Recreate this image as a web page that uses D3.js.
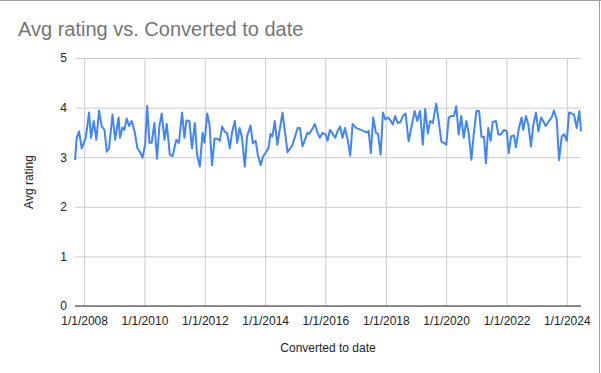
<!DOCTYPE html>
<html><head><meta charset="utf-8">
<script src="https://cdn.jsdelivr.net/npm/d3@7"></script>
<style>
html,body{margin:0;padding:0;background:#fff;}
svg{display:block;font-family:"Liberation Sans",Arial,sans-serif;}
</style></head>
<body><svg id="c" width="601" height="373"></svg>
<script>
const dates = ["2007-09-13","2007-10-04","2007-11-01","2007-12-03","2008-01-21","2008-03-01","2008-03-25","2008-04-27","2008-05-29","2008-06-30","2008-08-02","2008-09-04","2008-10-02","2008-10-29","2008-12-10","2009-01-11","2009-02-22","2009-03-11","2009-04-09","2009-05-03","2009-05-31","2009-06-28","2009-07-30","2009-09-03","2009-10-08","2009-11-10","2009-12-08","2010-01-09","2010-02-03","2010-03-02","2010-03-29","2010-05-01","2010-06-02","2010-07-01","2010-07-29","2010-09-01","2010-09-28","2010-11-04","2010-12-06","2011-01-22","2011-02-22","2011-04-01","2011-04-30","2011-05-24","2011-06-29","2011-07-30","2011-09-03","2011-09-30","2011-11-02","2011-12-05","2011-12-29","2012-01-30","2012-02-28","2012-03-29","2012-04-28","2012-06-07","2012-07-01","2012-07-29","2012-08-27","2012-09-28","2012-10-30","2012-11-28","2012-12-30","2013-01-28","2013-02-26","2013-03-27","2013-04-30","2013-05-27","2013-07-08","2013-08-05","2013-09-08","2013-10-05","2013-11-07","2013-12-08","2014-01-19","2014-02-12","2014-03-07","2014-03-30","2014-04-28","2014-05-28","2014-07-30","2014-09-29","2014-11-29","2015-01-29","2015-02-26","2015-03-29","2015-05-28","2015-06-17","2015-07-20","2015-08-26","2015-09-28","2015-10-25","2015-11-27","2016-01-07","2016-01-27","2016-02-24","2016-03-27","2016-04-28","2016-05-26","2016-06-27","2016-07-26","2016-08-24","2016-09-26","2016-10-27","2016-11-25","2017-01-05","2017-03-05","2017-05-13","2017-06-07","2017-07-04","2017-08-01","2017-09-04","2017-09-28","2017-10-30","2017-11-27","2017-12-25","2018-01-27","2018-02-28","2018-03-27","2018-04-24","2018-05-26","2018-06-28","2018-07-26","2018-08-28","2018-10-04","2018-11-05","2018-12-16","2019-01-17","2019-02-19","2019-03-25","2019-04-22","2019-05-25","2019-06-22","2019-07-24","2019-09-04","2019-10-03","2019-11-04","2019-12-02","2020-01-03","2020-02-02","2020-03-03","2020-04-05","2020-05-03","2020-06-01","2020-07-02","2020-08-01","2020-09-02","2020-09-30","2020-11-02","2020-11-30","2021-01-02","2021-02-04","2021-03-04","2021-04-03","2021-04-27","2021-05-25","2021-06-23","2021-07-17","2021-08-27","2021-09-24","2021-10-26","2021-12-02","2022-01-05","2022-01-28","2022-02-26","2022-04-01","2022-04-25","2022-06-01","2022-07-03","2022-07-22","2022-08-25","2022-09-22","2022-10-24","2022-11-22","2022-12-24","2023-01-22","2023-02-24","2023-03-21","2023-04-20","2023-05-29","2023-07-02","2023-07-29","2023-09-01","2023-09-29","2023-11-01","2023-12-02","2024-01-01","2024-01-28","2024-02-29","2024-03-28","2024-04-30","2024-06-01","2024-06-21"];
const ratings = [2.94,3.39,3.52,3.18,3.39,3.90,3.39,3.73,3.35,3.94,3.62,3.55,3.11,3.18,3.86,3.35,3.80,3.39,3.60,3.55,3.78,3.63,3.73,3.52,3.18,3.10,2.99,3.25,4.03,3.29,3.29,3.69,2.97,3.63,3.88,3.35,3.67,3.05,3.02,3.35,3.29,3.90,3.39,3.74,3.73,3.18,3.69,3.05,2.81,3.49,3.29,3.88,3.65,2.84,3.37,3.37,3.33,3.62,3.52,3.48,3.18,3.51,3.73,3.29,3.59,3.39,2.81,3.42,3.64,3.28,3.33,3.05,2.84,3.02,3.12,3.20,3.47,3.42,3.73,3.25,3.90,3.10,3.25,3.59,3.59,3.22,3.49,3.47,3.55,3.67,3.49,3.39,3.49,3.45,3.33,3.55,3.48,3.39,3.52,3.62,3.39,3.59,3.35,3.03,3.67,3.59,3.55,3.50,3.53,3.08,3.80,3.49,3.47,3.05,3.90,3.76,3.80,3.74,3.66,3.83,3.69,3.71,3.83,3.88,3.32,3.59,3.93,3.73,3.93,3.25,3.97,3.48,3.73,3.69,4.08,3.73,3.32,3.29,3.25,3.80,3.83,3.83,4.03,3.46,3.83,3.39,3.73,3.49,2.95,3.46,3.93,3.93,3.41,3.41,2.88,3.59,3.33,3.71,3.73,3.46,3.46,3.55,3.52,3.08,3.42,3.44,3.20,3.59,3.80,3.55,3.83,3.66,3.22,3.66,3.90,3.52,3.80,3.73,3.63,3.73,3.80,3.94,3.76,2.94,3.42,3.46,3.33,3.90,3.88,3.86,3.59,3.93,3.52];
const xTickYears = [2008,2010,2012,2014,2016,2018,2020,2022,2024];
const yTicks = [0,1,2,3,4,5];
const title = "Avg rating vs. Converted to date";
const xTitle = "Converted to date";
const yTitle = "Avg rating";

const parse = d3.utcParse("%Y-%m-%d");
const data = dates.map((d,i)=>({date:parse(d), v:ratings[i]}));

const svg = d3.select("#c");
const m = {left:75, right:581, top:58, bottom:306};
const x = d3.scaleUtc().domain(d3.extent(data,d=>d.date)).range([m.left,m.right]);
const y = d3.scaleLinear().domain([0,5]).range([m.bottom,m.top]);

// frame lines
svg.append("line").attr("x1",0).attr("x2",601).attr("y1",0.5).attr("y2",0.5).attr("stroke","#9e9e9e");
svg.append("line").attr("x1",599.5).attr("x2",599.5).attr("y1",0).attr("y2",373).attr("stroke","#9e9e9e");

// title
svg.append("text").attr("x",18).attr("y",36).attr("font-size",20).attr("fill","#757575").text(title);

// grid
const xTicks = xTickYears.map(yr=>new Date(Date.UTC(yr,0,1)));
const gy = svg.append("g").attr("transform",`translate(${m.left},0)`)
  .call(d3.axisLeft(y).tickValues(yTicks).tickSize(-(m.right-m.left)).tickFormat(d3.format("d")));
gy.select(".domain").remove();
gy.selectAll(".tick line").attr("stroke","#cccccc");
gy.selectAll(".tick text").attr("x",-8).attr("font-size",12).attr("fill","#222").attr("font-family","Liberation Sans, Arial, sans-serif");

const gx = svg.append("g").attr("transform",`translate(0,${m.bottom})`)
  .call(d3.axisBottom(x).tickValues(xTicks).tickSize(-(m.bottom-m.top)).tickFormat(d3.utcFormat("%-m/%-d/%Y")));
gx.select(".domain").remove();
gx.selectAll(".tick line").attr("stroke","#cccccc");
gx.selectAll(".tick text").attr("y",10).attr("font-size",12).attr("fill","#222").attr("font-family","Liberation Sans, Arial, sans-serif");

// baseline
svg.append("line").attr("x1",m.left).attr("x2",m.right).attr("y1",y(0)).attr("y2",y(0)).attr("stroke","#333").attr("stroke-width",1);

// line
svg.append("path").datum(data)
  .attr("fill","none").attr("stroke","#4285F4").attr("stroke-width",2).attr("stroke-linejoin","round")
  .attr("d", d3.line().x(d=>x(d.date)).y(d=>y(d.v)));

// axis titles
svg.append("text").attr("x",(m.left+m.right)/2).attr("y",352).attr("text-anchor","middle")
  .attr("font-size",12).attr("fill","#222").text(xTitle);
svg.append("text").attr("transform",`translate(33,${(m.top+m.bottom)/2}) rotate(-90)`).attr("text-anchor","middle")
  .attr("font-size",12).attr("fill","#222").text(yTitle);
</script></body></html>
